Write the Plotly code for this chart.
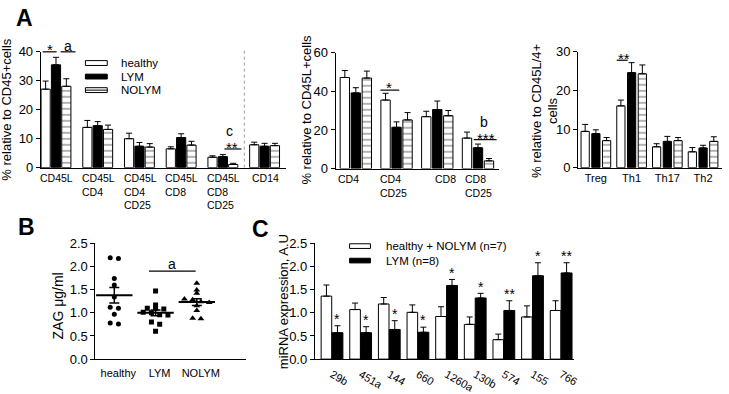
import numpy as np
import plotly.graph_objects as go

W, H = 729, 394
FONT = "Liberation Sans, Arial, sans-serif"

# ---------------- data ----------------
# Panel A (left): % relative to CD45+ cells
a1_groups = ["CD45L", "CD45L<br>CD4", "CD45L<br>CD4<br>CD25", "CD45L<br>CD8", "CD45L<br>CD8<br>CD25", "CD14"]
a1_healthy = [27.1, 13.9, 10.0, 6.5, 3.6, 7.9]
a1_healthy_sem = [2.8, 2.4, 1.9, 0.7, 0.5, 0.9]
a1_lym = [35.5, 14.5, 7.4, 10.4, 3.8, 7.4]
a1_lym_sem = [2.6, 1.4, 1.3, 1.3, 0.7, 1.0]
a1_nolym = [28.1, 13.2, 7.1, 7.8, 1.1, 7.6]
a1_nolym_sem = [2.6, 1.5, 1.2, 1.3, 0.4, 0.8]

# Panel A (middle): % relative to CD45L+ cells
a2_groups = ["CD4", "CD4<br>CD25", "CD8", "CD8<br>CD25"]
a2_healthy = [47.2, 35.5, 26.9, 15.8]
a2_healthy_sem = [3.6, 3.5, 2.8, 3.1]
a2_lym = [39.2, 21.4, 30.6, 10.8]
a2_lym_sem = [2.7, 2.8, 4.4, 1.9]
a2_nolym = [46.9, 25.2, 27.4, 4.0]
a2_nolym_sem = [3.6, 3.8, 2.7, 1.2]

# Panel A (right): % relative to CD45L/4+ cells
a3_groups = ["Treg", "Th1", "Th17", "Th2"]
a3_healthy = [9.4, 16.0, 5.4, 4.1]
a3_healthy_sem = [1.8, 1.5, 0.8, 1.1]
a3_lym = [8.8, 24.6, 6.8, 5.1]
a3_lym_sem = [1.0, 2.6, 1.3, 0.7]
a3_nolym = [7.0, 24.3, 7.0, 6.8]
a3_nolym_sem = [0.8, 2.3, 0.8, 1.2]

# Panel B: ZAG ug/ml individual values
b_groups = ["healthy", "LYM", "NOLYM"]
b_healthy = [2.19, 2.17, 1.74, 1.60, 1.34, 1.12, 1.10, 0.97, 0.78, 0.76]
b_lym = [1.47, 1.17, 1.10, 1.09, 1.08, 1.01, 1.00, 0.96, 0.95, 0.80, 0.75, 0.60]
b_nolym = [1.64, 1.49, 1.42, 1.30, 1.28, 1.24, 1.22, 1.15, 1.05, 0.88, 0.87]

# Panel C: miRNA expression
c_mirna = ["29b", "451a", "144", "660", "1260a", "130b", "574", "155", "766"]
c_ctrl = [1.36, 1.07, 1.19, 1.01, 0.92, 0.75, 0.42, 0.91, 1.05]
c_ctrl_sem = [0.24, 0.14, 0.14, 0.16, 0.21, 0.16, 0.12, 0.24, 0.21]
c_lym = [0.57, 0.57, 0.64, 0.58, 1.59, 1.32, 1.05, 1.80, 1.86]
c_lym_sem = [0.15, 0.13, 0.19, 0.11, 0.13, 0.10, 0.21, 0.28, 0.22]
c_sig = ["*", "*", "*", "*", "*", "*", "**", "*", "**"]

# ---------------- geometry (pixels) ----------------
def fx(px):
    return px / W

def fy(py):
    return 1 - py / H

panels = {
    "A1": dict(ax="", x=(41, 288), y=(48, 172), xr=(-0.38, 5.5), yr=(0, 40), dt=10, fmt=""),
    "A2": dict(ax="2", x=(338, 502), y=(49, 173), xr=(-0.5, 3.5), yr=(0, 60), dt=20, fmt=""),
    "A3": dict(ax="3", x=(582, 727), y=(48, 172), xr=(-0.5, 3.53), yr=(0, 30), dt=10, fmt=""),
    "B": dict(ax="4", x=(96, 248), y=(253, 377), xr=(-0.46, 3.2), yr=(0, 2.5), dt=0.5, fmt=".1f"),
    "C": dict(ax="5", x=(317, 578), y=(253, 377), xr=(-0.6, 8.45), yr=(0, 2.5), dt=0.5, fmt=".1f"),
}

def dx2px(p, xv):
    g = panels[p]
    return g["x"][0] + (xv - g["xr"][0]) / (g["xr"][1] - g["xr"][0]) * (g["x"][1] - g["x"][0])

def dy2px(p, yv):
    g = panels[p]
    return g["y"][1] - (yv - g["yr"][0]) / (g["yr"][1] - g["yr"][0]) * (g["y"][1] - g["y"][0])

fig = go.Figure()

def marker_for(kind):
    if kind == "white":
        return dict(color="white", line=dict(color="black", width=1))
    if kind == "black":
        return dict(color="black", line=dict(color="black", width=1))
    return dict(color="white", line=dict(color="black", width=1),
                pattern=dict(shape="-", fgcolor="black", bgcolor="white", size=6, solidity=0.2))

def add_bars(p, cats, vals, sem, kind, offset, width):
    a = panels[p]["ax"]
    fig.add_trace(go.Bar(
        x=cats, y=vals, xaxis="x" + a, yaxis="y" + a,
        offset=offset, width=width, marker=marker_for(kind),
        error_y=dict(type="data", array=sem, arrayminus=[0] * len(vals), symmetric=False,
                     color="black", thickness=1, width=3),
        showlegend=False, hoverinfo="skip"))

# Panel A1
for i, (v, s, k) in enumerate([(a1_healthy, a1_healthy_sem, "white"),
                               (a1_lym, a1_lym_sem, "black"),
                               (a1_nolym, a1_nolym_sem, "striped")]):
    add_bars("A1", a1_groups, v, s, k, -0.372 + i * 0.248, 0.22)
# Panel A2
for i, (v, s, k) in enumerate([(a2_healthy, a2_healthy_sem, "white"),
                               (a2_lym, a2_lym_sem, "black"),
                               (a2_nolym, a2_nolym_sem, "striped")]):
    add_bars("A2", a2_groups, v, s, k, -0.39 + i * 0.27, 0.23)
# Panel A3
for i, (v, s, k) in enumerate([(a3_healthy, a3_healthy_sem, "white"),
                               (a3_lym, a3_lym_sem, "black"),
                               (a3_nolym, a3_nolym_sem, "striped")]):
    add_bars("A3", a3_groups, v, s, k, -0.415 + i * 0.3, 0.23)
# Panel C
add_bars("C", c_mirna, c_ctrl, c_ctrl_sem, "white", -0.38, 0.37)
add_bars("C", c_mirna, c_lym, c_lym_sem, "black", 0.0, 0.38)

# Panel B: scatter with simple beeswarm
def swarm(vals, idx, step=0.2, tol=0.055):
    order = sorted(vals, reverse=True)
    clusters = [[order[0]]]
    for v in order[1:]:
        if clusters[-1][-1] - v < tol:
            clusters[-1].append(v)
        else:
            clusters.append([v])
    xs, ys = [], []
    for c in clusters:
        n = len(c)
        for k, v in enumerate(c):
            xs.append(idx + (k - (n - 1) / 2) * step)
            ys.append(v)
    return xs, ys

symbols = ["circle", "square", "triangle-up"]
sizes = [5, 5, 6]
b_sets = [b_healthy, b_lym, b_nolym]
for i, vals in enumerate(b_sets):
    xs, ys = swarm(vals, i)
    fig.add_trace(go.Scatter(x=xs, y=ys, mode="markers", xaxis="x4", yaxis="y4",
                             marker=dict(symbol=symbols[i], size=sizes[i], color="black"),
                             showlegend=False, hoverinfo="skip"))
means = [float(np.mean(v)) for v in b_sets]
sems = [float(np.std(v, ddof=1) / np.sqrt(len(v))) for v in b_sets]
fig.add_trace(go.Scatter(x=[0, 1, 2], y=means, mode="markers", xaxis="x4", yaxis="y4",
                         marker=dict(symbol="line-ew", size=26, line=dict(color="black", width=2)),
                         error_y=dict(type="data", array=sems, color="black", thickness=1.5, width=5),
                         showlegend=False, hoverinfo="skip"))

# ---------------- axes ----------------
layout = dict(width=W, height=H, margin=dict(l=0, r=0, t=0, b=0),
              paper_bgcolor="white", plot_bgcolor="rgba(0,0,0,0)", barmode="overlay",
              showlegend=False, hovermode=False, dragmode=False,
              font=dict(family=FONT, color="black"))

ticklabels = {"A3": a3_groups, "B": b_groups, "C": c_mirna}
for p, g in panels.items():
    a = g["ax"]
    xa = dict(domain=[fx(g["x"][0]), fx(g["x"][1])], range=list(g["xr"]), anchor="y" + a,
              showline=True, linecolor="black", linewidth=1, showgrid=False, zeroline=False,
              ticks="", tickfont=dict(size=11, family=FONT, color="black"),
              fixedrange=True)
    if p in ("A1", "A2", "A3", "C"):
        xa["type"] = "category"
    if p in ticklabels:
        if p == "B":
            xa["tickvals"] = [0, 1, 2]
            xa["ticktext"] = b_groups
            xa["ticklabelshift"] = 4
        if p in ("B", "C"):
            xa["ticklabelstandoff"] = 4
        xa["showticklabels"] = True
    else:
        xa["showticklabels"] = False
    ya = dict(domain=[fy(g["y"][1]), fy(g["y"][0])], range=list(g["yr"]), anchor="x" + a,
              showline=True, linecolor="black", linewidth=1, showgrid=False, zeroline=False,
              ticks="outside", ticklen=4, tickcolor="black", tickwidth=1, dtick=g["dt"],
              tick0=0, tickformat=g["fmt"], showticklabels=True, fixedrange=True,
              tickfont=dict(size=13, family=FONT, color="black"))
    layout["xaxis" + a] = xa
    layout["yaxis" + a] = ya

fig.update_layout(**layout)

# ---------------- annotations & shapes ----------------
anns = []
shapes = []

def text(px, py, s, size, bold=False, xanchor="center", angle=0, align="center"):
    if bold:
        s = "<b>" + s + "</b>"
    anns.append(dict(x=fx(px), y=fy(py), xref="paper", yref="paper", text=s, showarrow=False,
                     xanchor=xanchor, yanchor="middle", textangle=angle, align=align,
                     font=dict(size=size, family=FONT, color="black")))

def hline(x0, x1, py, width=1.2):
    shapes.append(dict(type="line", xref="paper", yref="paper", x0=fx(x0), x1=fx(x1),
                       y0=fy(py), y1=fy(py), line=dict(color="black", width=width)))

def star(px, pyc, s, size=15):
    text(px, pyc + 0.2 * size, s, size)

# panel letters
text(25, 12, "A", 23, bold=True)
text(27, 236, "B", 23, bold=True)
text(262, 238, "C", 23, bold=True)

# y titles
text(7, 110, "% relative to CD45+cells", 13, angle=-90)
text(309, 110, "% relative to CD45L+cells", 13, angle=-90)
text(548, 111, "% relative to CD45L/4+<br>cells", 13, angle=-90)
text(58, 320, "ZAG \u03bcg/ml", 14, angle=-90)
text(285, 316, "miRNA expression, A.U", 13, angle=-90)

# multi-line category labels for A1 and A2
for i, lab in enumerate(a1_groups):
    anns.append(dict(x=i, y=fy(175), xref="x", yref="paper", text=lab, showarrow=False,
                     xanchor="center", yanchor="top", align="left",
                     font=dict(size=10.5, family=FONT, color="black")))
a2_label_shift = [-8, -3, 8, 0]
for i, lab in enumerate(a2_groups):
    anns.append(dict(x=i, y=fy(176), xref="x2", yref="paper", text=lab, showarrow=False,
                     xanchor="center", yanchor="top", align="left", xshift=a2_label_shift[i],
                     font=dict(size=10.5, family=FONT, color="black")))

# A1 significance marks
hline(43, 57, 48)
star(50, 43, "*")
hline(61, 76, 48)
text(68.5, 42, "a", 14)
text(231, 133, "c", 14)
star(234, 147, "**")
hline(226, 243, 152)
# dotted separator
shapes.append(dict(type="line", xref="paper", yref="paper", x0=fx(246), x1=fx(246),
                   y0=fy(172), y1=fy(46), line=dict(color="#9a9a9a", width=1, dash="dot")))

# A1 legend
leg_rows = [("healthy", "white"), ("LYM", "black"), ("NOLYM", "striped")]
for r, (lab, kind) in enumerate(leg_rows):
    yc = 60 + r * 14.5
    shapes.append(dict(type="rect", xref="paper", yref="paper", x0=fx(86), x1=fx(108),
                       y0=fy(yc + 2.6), y1=fy(yc - 2.6),
                       fillcolor="black" if kind == "black" else "white",
                       line=dict(color="black", width=1)))
    if kind == "striped":
        hline(86, 108, yc, width=1)
    text(120, yc, lab, 11.5, xanchor="left")

# A2 significance
hline(383, 402, 89)
star(392, 83, "*")
text(487, 123, "b", 14)
star(489, 138, "***")
hline(477, 500, 142)

# A3 significance
star(628, 52, "**")
hline(621, 632, 57)

# B significance
hline(150, 197, 282.7)
text(173.5, 275.5, "a", 14)

# C legend
shapes.append(dict(type="rect", xref="paper", yref="paper", x0=fx(352), x1=fx(373),
                   y0=fy(258.5), y1=fy(253.5), fillcolor="white", line=dict(color="black", width=1)))
shapes.append(dict(type="rect", xref="paper", yref="paper", x0=fx(352), x1=fx(373),
                   y0=fy(274), y1=fy(269), fillcolor="black", line=dict(color="black", width=1)))
text(387, 256, "healthy + NOLYM (n=7)", 11.5, xanchor="left")
text(387, 271.5, "LYM (n=8)", 11.5, xanchor="left")

# C stars above LYM bars
for i, s in enumerate(c_sig):
    px = dx2px("C", i + 0.19)
    top = dy2px("C", c_lym[i] + c_lym_sem[i])
    star(px, top - 10, s, 14)

fig.update_layout(annotations=anns, shapes=shapes)
fig.write_html("out.html", config={"displayModeBar": False, "staticPlot": True},
               post_script="document.body.style.margin='0';document.body.style.padding='0';")
